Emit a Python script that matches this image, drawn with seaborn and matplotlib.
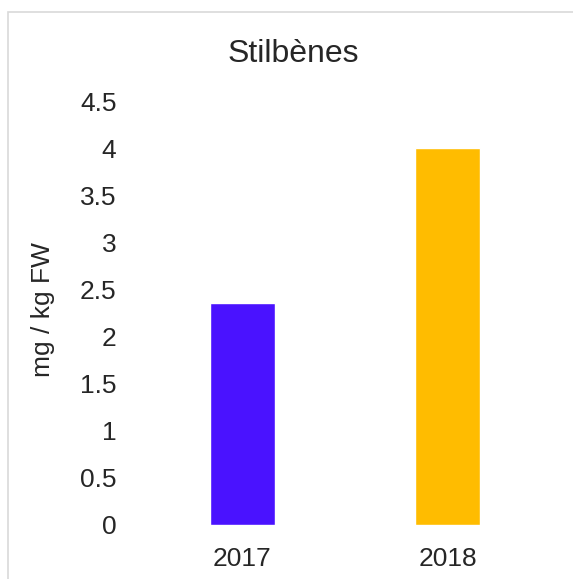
import numpy as np
import pandas as pd
import matplotlib
matplotlib.use('Agg')
import matplotlib.pyplot as plt
import seaborn as sns
from matplotlib.patches import Rectangle
from matplotlib.ticker import FuncFormatter

# dati
years = ['2017', '2018']
values = [2.35, 4.0]
bar_colors = ['#4A12FF', '#FFBC00']
yticks = [0, 0.5, 1, 1.5, 2, 2.5, 3, 3.5, 4, 4.5]

sns.set_style('white')
plt.rcParams['font.family'] = ['Liberation Sans', 'DejaVu Sans']
txt = '#262626'

df = pd.DataFrame({'anno': years, 'valore': values})

fig = plt.figure(figsize=(5.73, 5.79), dpi=100)
ax = fig.add_axes([140 / 573, 1 - 524.5 / 579, 410 / 573, (524.5 - 101) / 579])

sns.barplot(data=df, x='anno', y='valore', hue='anno', palette=bar_colors,
            width=0.317, legend=False, saturation=1, ax=ax)

ax.set_xlim(-0.5, 1.5)
ax.set_ylim(0, 4.5)
ax.set_yticks(yticks)
ax.yaxis.set_major_formatter(FuncFormatter(lambda v, p: f'{v:g}'))
ax.tick_params(axis='y', length=0, pad=17, labelsize=19, labelcolor=txt)
ax.tick_params(axis='x', length=0, pad=16.5, labelsize=19, labelcolor=txt)
ax.set_xlabel('')
ax.set_ylabel('mg / kg FW', fontsize=19, color=txt)
ax.yaxis.label.set_va('center')
ax.yaxis.set_label_coords((43 - 140) / 410, (524.5 - 310) / (524.5 - 101))
sns.despine(ax=ax, left=True, bottom=True)

# titolo centrato sull'area del grafico
fig.text(293 / 573, 1 - 62 / 579, 'Stilbènes', ha='center', va='baseline',
         fontsize=23, color=txt)

# bordo grigio chiaro del riquadro
fig.patches.append(Rectangle((7.5 / 573, -0.1), 2, 1.1 - 12 / 579,
                             transform=fig.transFigure, fill=False,
                             edgecolor='#d9d9d9', linewidth=1.2))

fig.savefig('out.png', dpi=100)
